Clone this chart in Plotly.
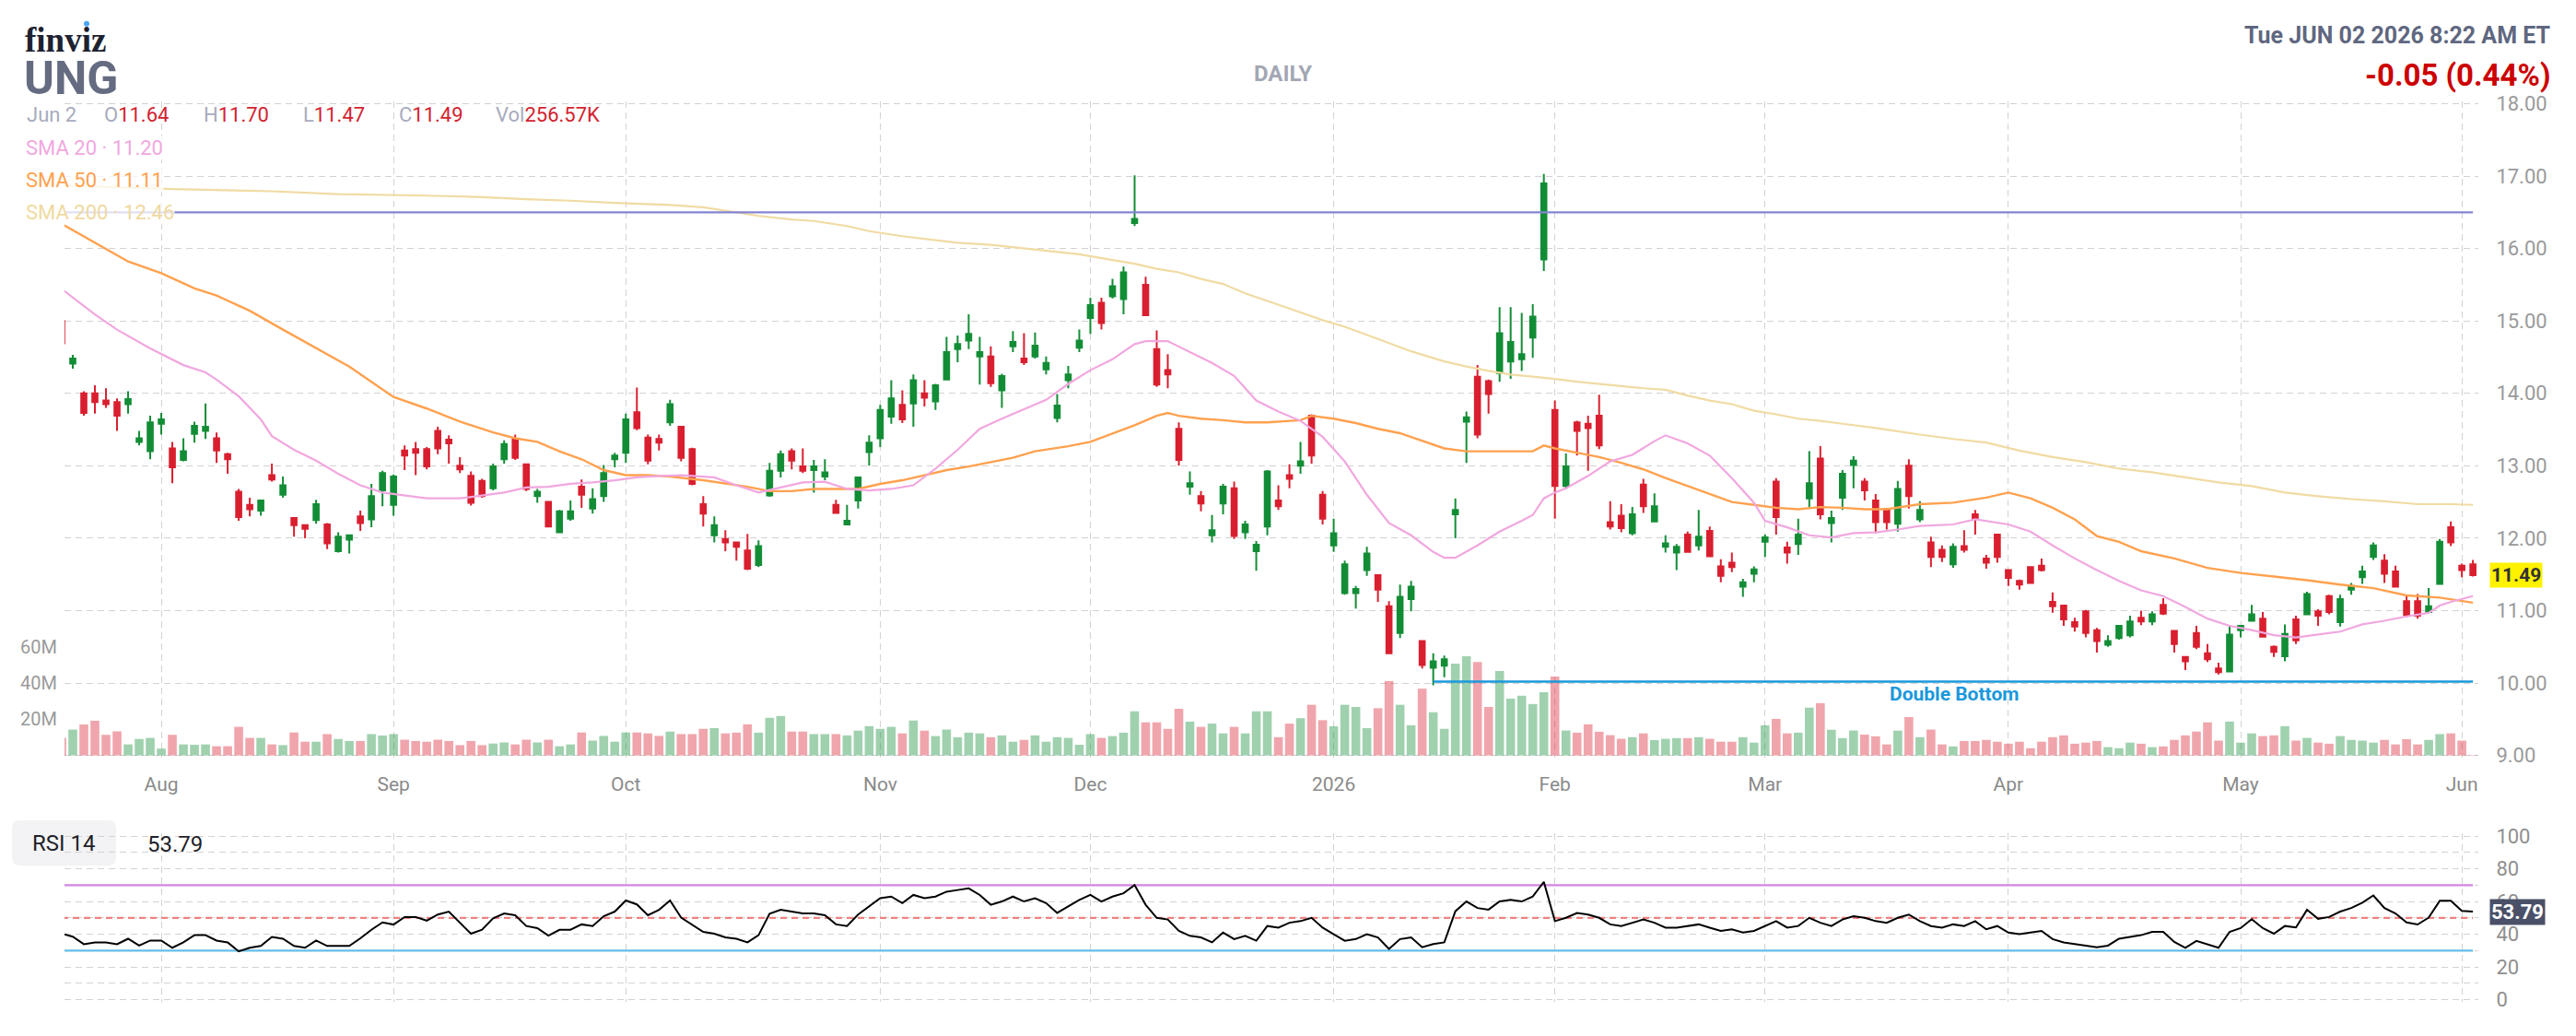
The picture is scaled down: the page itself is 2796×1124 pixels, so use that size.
import pandas as pd
import plotly.graph_objects as go

W, H = 2796, 1124

# ---------------- data ----------------
holidays = ["2025-09-01", "2025-11-27", "2025-12-25", "2026-01-01", "2026-01-19",
            "2026-02-16", "2026-04-03", "2026-05-25"]
dates = pd.bdate_range("2025-07-21", "2026-06-02", freq="C", holidays=holidays).strftime("%Y-%m-%d").tolist()

opens = [15.00,14.41,14.00,14.00,13.90,13.88,13.85,13.33,13.20,13.58,13.24,13.08,13.44,13.48,13.38,13.16,12.64,12.46,12.38,12.87,
         12.60,12.28,12.18,12.25,12.19,11.82,11.98,12.30,12.26,12.66,12.46,13.21,13.23,13.23,13.48,13.36,13.00,12.86,12.79,12.69,
         13.09,13.37,13.02,12.58,12.50,12.08,12.27,12.71,12.41,12.58,13.09,13.18,13.74,13.39,13.37,13.60,13.54,13.23,12.47,12.04,
         11.99,11.94,11.83,11.63,12.59,12.93,13.20,12.99,12.94,12.85,12.46,12.19,12.52,13.19,13.38,13.68,13.84,13.86,14.00,13.89,
         14.19,14.61,14.73,14.51,14.51,14.04,14.65,14.48,14.51,14.33,13.66,14.18,14.63,15.04,15.25,15.34,15.30,16.35,15.50,14.61,
         14.32,13.51,12.71,12.58,12.04,12.48,12.69,12.08,11.82,12.16,12.52,12.87,13.00,13.69,12.60,11.90,11.24,11.24,11.56,11.49,
         11.06,10.69,11.16,10.58,10.21,10.24,12.33,13.61,14.23,14.17,14.28,14.44,14.47,14.77,15.85,13.77,12.72,13.60,13.58,13.69,
         12.22,12.31,12.07,12.74,12.23,11.88,11.80,12.05,11.90,12.10,11.61,11.66,11.33,11.51,11.95,12.78,11.87,11.92,12.55,13.10,
         12.21,12.56,13.01,12.78,12.52,12.40,12.20,13.00,12.26,11.94,11.84,11.64,11.89,12.33,11.72,12.05,11.56,11.41,11.60,11.62,
         11.12,11.07,10.84,10.99,10.73,10.53,10.62,10.66,10.90,10.85,11.08,10.72,10.36,10.69,10.41,10.20,10.16,10.73,10.86,10.89,
         10.50,10.37,10.88,10.95,10.99,11.20,10.84,11.29,11.46,11.74,11.69,11.54,11.13,11.13,10.98,11.37,12.15,11.62,11.64]
highs = [15.02,14.53,14.03,14.11,14.07,13.93,14.03,13.48,13.69,13.73,13.33,13.38,13.61,13.86,13.46,13.18,12.68,12.56,12.53,13.03,
         12.85,12.28,12.19,12.53,12.21,12.08,12.04,12.38,12.75,12.93,12.88,13.28,13.33,13.26,13.54,13.42,13.12,12.92,12.82,13.03,
         13.35,13.43,13.03,12.68,12.51,12.39,12.52,12.81,12.69,13.01,13.18,13.72,14.08,13.43,13.43,13.91,13.54,13.25,12.58,12.30,
         12.11,11.95,12.06,11.97,13.04,13.21,13.24,13.24,13.08,13.09,12.53,12.46,12.85,13.42,13.84,14.18,14.04,14.26,14.18,14.13,
         14.78,14.80,15.09,14.78,14.65,14.27,14.86,14.83,14.84,14.51,13.99,14.38,14.88,15.32,15.32,15.58,15.75,17.01,15.61,14.87,
         14.54,13.60,12.92,12.65,12.32,12.75,12.78,12.24,11.96,12.94,12.73,13.02,13.33,13.71,12.65,12.27,11.69,11.34,11.88,11.49,
         11.13,11.36,11.41,10.58,10.41,10.38,12.55,13.75,14.39,14.19,15.19,15.19,15.11,15.23,17.03,13.90,13.17,13.62,13.69,13.98,
         12.51,12.47,12.43,12.82,12.62,12.04,11.92,12.09,12.39,12.16,11.71,11.80,11.44,11.61,12.05,12.83,11.95,12.27,13.20,13.27,
         12.38,12.94,13.13,12.83,12.61,12.42,12.79,13.09,12.51,12.02,11.90,11.93,12.11,12.39,11.77,12.06,11.56,11.43,11.60,11.72,
         11.25,11.07,10.90,11.01,10.76,10.66,10.80,10.93,11.00,10.99,11.17,10.72,10.37,10.79,10.54,10.28,10.80,10.80,11.08,10.98,
         10.52,10.81,10.93,11.26,11.02,11.22,11.22,11.38,11.62,11.94,11.78,11.62,11.20,11.23,11.31,11.99,12.23,11.65,11.70]
lows = [14.66,14.34,13.69,13.72,13.80,13.48,13.72,13.28,13.09,13.43,12.76,13.06,13.32,13.37,13.04,12.89,12.24,12.30,12.31,12.78,
        12.56,12.02,12.00,12.20,11.85,11.80,11.79,12.10,12.15,12.44,12.31,12.94,12.87,12.95,13.16,13.03,12.90,12.45,12.56,12.66,
        13.03,13.08,12.65,12.49,12.15,12.07,12.24,12.42,12.34,12.50,12.98,13.04,13.49,13.02,13.21,13.55,13.06,12.73,12.16,11.94,
        11.82,11.69,11.56,11.60,12.57,12.84,12.95,12.90,12.63,12.80,12.35,12.19,12.41,13.00,13.26,13.58,13.59,13.54,13.82,13.77,
        14.19,14.43,14.61,14.12,14.09,13.80,14.57,14.39,14.48,14.26,13.60,14.07,14.57,14.82,14.88,15.31,15.09,16.31,15.07,14.09,
        14.07,13.00,12.60,12.37,11.94,12.33,11.99,11.99,11.55,12.04,12.39,12.69,12.89,13.03,12.19,11.81,11.22,11.03,11.48,11.12,
        10.40,10.62,10.99,10.20,9.97,10.08,12.00,13.04,13.38,13.72,14.16,14.20,14.31,14.49,15.69,12.27,12.68,13.14,12.93,13.23,
        12.12,12.08,12.04,12.35,12.23,11.80,11.56,11.80,11.83,11.74,11.39,11.53,11.19,11.39,11.74,12.05,11.65,11.77,12.43,12.26,
        11.94,12.39,12.69,12.52,12.07,12.12,12.09,12.41,12.22,11.60,11.67,11.59,11.80,12.05,11.58,11.66,11.34,11.29,11.37,11.54,
        10.97,10.79,10.71,10.63,10.42,10.50,10.60,10.63,10.80,10.80,10.94,10.42,10.18,10.47,10.29,10.12,10.16,10.63,10.85,10.63,
        10.36,10.30,10.54,10.94,10.79,10.95,10.78,11.22,11.37,11.70,11.38,11.32,10.91,10.89,10.98,11.37,11.89,11.46,11.47]
closes = [14.69,14.48,13.73,13.88,13.85,13.69,13.92,13.38,13.60,13.64,12.98,13.20,13.55,13.54,13.21,13.09,12.29,12.40,12.52,12.81,
          12.73,12.18,12.13,12.47,11.93,12.02,12.04,12.21,12.58,12.90,12.85,13.14,13.18,12.99,13.24,13.31,12.95,12.49,12.58,12.99,
          13.30,13.11,12.68,12.64,12.16,12.37,12.37,12.60,12.54,12.90,13.14,13.64,13.52,13.07,13.32,13.85,13.11,12.75,12.34,12.18,
          11.94,11.88,11.58,11.89,12.93,13.16,13.07,12.93,12.99,12.91,12.35,12.24,12.84,13.32,13.77,13.93,13.64,14.18,13.94,14.11,
          14.57,14.68,14.82,14.57,14.14,14.24,14.71,14.43,14.66,14.42,13.83,14.26,14.73,15.22,14.97,15.48,15.67,16.41,15.08,14.12,
          14.26,13.08,12.76,12.48,12.11,12.71,12.03,12.19,11.91,12.92,12.44,12.82,13.06,13.14,12.27,12.07,11.64,11.30,11.79,11.29,
          10.41,11.19,11.33,10.25,10.30,10.33,12.39,13.67,13.43,13.99,14.83,14.71,14.54,15.06,16.90,12.72,12.99,13.48,13.52,13.28,
          12.16,12.14,12.33,12.44,12.44,11.93,11.88,11.81,12.02,11.75,11.48,11.60,11.39,11.57,12.01,12.29,11.80,12.05,12.76,12.33,
          12.28,12.89,13.07,12.66,12.22,12.22,12.68,12.58,12.39,11.74,11.74,11.88,11.84,12.27,11.66,11.74,11.45,11.36,11.38,11.56,
          11.06,10.88,10.78,10.69,10.58,10.58,10.79,10.85,10.85,10.95,10.96,10.54,10.30,10.50,10.33,10.15,10.67,10.79,10.95,10.64,
          10.43,10.68,10.59,11.23,10.93,10.98,11.16,11.34,11.54,11.90,11.51,11.33,10.94,10.93,11.06,11.95,11.94,11.56,11.49]
volume_m = [9.7,14.3,17.1,19.2,11.4,13.3,6.1,9.1,9.7,3.8,11.4,6.1,5.9,6.1,5.1,5.1,15.8,9.7,9.7,6.1,
            5.7,12.7,7.6,7.6,11.8,9.1,8.0,8.0,11.8,11.0,11.8,8.7,8.0,7.6,8.7,8.0,5.7,8.0,5.7,6.6,
            7.2,6.1,8.7,7.2,8.7,5.1,6.1,12.7,8.2,10.8,7.6,12.7,12.7,12.2,10.8,13.2,11.8,11.8,14.7,15.1,
            12.2,12.6,17.2,12.6,20.8,21.8,13.2,13.2,11.8,11.8,11.8,11.1,13.7,16.2,14.7,15.8,12.2,19.3,13.7,10.7,
            14.3,10.1,12.6,12.2,10.1,11.1,7.6,8.6,11.1,7.6,10.1,9.7,5.9,11.8,9.7,10.7,12.6,24.4,18.3,18.3,
            14.7,25.8,18.7,15.8,17.6,12.2,15.8,12.2,24.4,24.4,10.1,17.6,20.6,28.0,19.5,16.1,28.0,26.8,15.1,26.1,
            41.1,28.0,16.7,36.9,23.9,14.7,50.7,54.8,51.6,26.8,46.6,31.4,33.0,28.4,34.9,43.6,13.8,12.6,17.2,13.1,
            11.2,9.2,10.1,12.2,8.5,9.2,9.6,9.6,10.1,9.2,7.6,7.6,10.1,7.1,16.7,20.2,12.2,12.6,26.4,28.9,
            14.2,9.6,13.8,11.5,10.6,6.1,13.7,21.2,10.1,14.3,6.1,5.0,8.0,8.0,8.6,7.6,6.5,7.6,4.0,7.6,
            10.1,11.1,6.5,7.1,8.0,4.6,4.0,7.1,6.5,4.6,5.0,8.6,11.1,13.2,18.3,8.2,18.7,7.1,12.2,10.7,
            11.1,16.2,8.2,9.7,7.1,6.5,10.7,8.6,8.2,7.1,8.6,6.1,9.0,6.1,8.6,11.8,12.2,8.2,0.26]

sma20_idx = [0,3,5,8,11,13,14,16,18,19,21,23,25,27,29,31,33,36,38,40,42,44,46,48,50,52,54,56,59,61,63,65,67,69,71,73,75,77,79,81,
             83,85,87,89,91,93,95,97,98,100,102,104,106,108,110,112,114,116,118,120,122,124,125,126,128,130,132,133,134,135,136,138,
             140,142,144,145,147,149,151,153,154,156,158,160,162,164,166,168,171,173,176,178,180,182,184,186,188,190,192,194,196,198,
             200,202,204,206,208,210,212,214,215,216,218]
sma20_val = [15.44,15.09,14.88,14.62,14.39,14.29,14.19,13.96,13.64,13.41,13.22,13.07,12.89,12.73,12.63,12.59,12.55,12.55,12.59,12.63,
             12.70,12.71,12.75,12.77,12.80,12.84,12.86,12.87,12.84,12.73,12.63,12.70,12.77,12.78,12.68,12.66,12.68,12.73,12.96,13.22,
             13.51,13.65,13.78,13.91,14.13,14.32,14.47,14.68,14.72,14.72,14.57,14.42,14.24,13.90,13.75,13.62,13.40,13.06,12.60,12.21,
             12.04,11.81,11.73,11.73,11.90,12.09,12.24,12.32,12.55,12.63,12.69,12.86,13.06,13.15,13.34,13.42,13.31,13.14,12.83,12.49,
             12.24,12.15,12.04,12.01,12.07,12.08,12.12,12.17,12.19,12.26,12.19,12.09,11.90,11.72,11.56,11.41,11.28,11.20,11.05,10.89,
             10.79,10.73,10.66,10.63,10.67,10.71,10.81,10.86,10.92,10.97,11.07,11.12,11.20]
sma50_idx = [0,3,6,9,12,14,17,20,23,26,28,30,33,36,39,41,43,45,47,49,51,53,55,58,62,64,66,68,72,74,76,78,80,82,84,86,88,91,93,95,
             97,99,100,101,103,105,107,109,112,113,115,117,119,121,123,125,127,131,133,134,135,137,139,141,143,145,147,149,151,153,
             155,157,159,161,163,165,168,171,174,176,178,180,182,184,186,188,191,194,197,200,203,206,209,212,215,218]
sma50_val = [16.34,16.08,15.82,15.66,15.45,15.35,15.14,14.88,14.62,14.37,14.16,13.95,13.79,13.61,13.46,13.38,13.33,13.20,13.09,12.94,
             12.87,12.87,12.85,12.80,12.71,12.65,12.65,12.68,12.68,12.75,12.80,12.87,12.94,12.99,13.05,13.11,13.20,13.27,13.33,13.44,
             13.56,13.69,13.73,13.69,13.65,13.63,13.60,13.60,13.63,13.69,13.65,13.59,13.51,13.45,13.34,13.24,13.20,13.20,13.20,13.28,
             13.24,13.18,13.12,13.04,12.95,12.83,12.72,12.60,12.50,12.46,12.42,12.40,12.43,12.42,12.40,12.40,12.47,12.49,12.56,12.63,
             12.55,12.42,12.26,12.03,11.95,11.82,11.72,11.59,11.52,11.47,11.42,11.36,11.31,11.21,11.18,11.11]
sma200_idx = [0,10,19,25,33,38,42,46,50,55,58,61,63,66,68,71,73,76,79,81,84,87,89,92,95,97,99,101,103,105,107,109,111,114,116,119,
              122,125,127,129,131,133,135,137,139,141,143,145,147,149,151,153,155,157,159,161,163,165,168,171,174,177,180,183,186,
              189,192,195,198,201,204,207,210,213,216,218]
sma200_val = [16.87,16.82,16.79,16.75,16.73,16.71,16.68,16.66,16.63,16.60,16.57,16.50,16.45,16.40,16.38,16.31,16.24,16.17,16.12,16.08,
              16.05,16.00,15.97,15.92,15.84,15.79,15.72,15.67,15.58,15.51,15.38,15.27,15.17,15.01,14.92,14.75,14.58,14.44,14.37,14.31,
              14.26,14.23,14.20,14.16,14.13,14.10,14.07,14.05,13.97,13.90,13.85,13.76,13.71,13.65,13.62,13.58,13.54,13.50,13.43,13.37,
              13.32,13.21,13.12,13.05,12.96,12.91,12.84,12.77,12.72,12.63,12.58,12.54,12.51,12.47,12.47,12.46]

rsi14 = [40.3,38.5,33.9,35.0,35.0,33.9,37.2,33.0,36.1,36.1,31.7,35.0,39.4,39.4,36.1,35.0,29.5,31.7,32.8,38.3,
         37.2,32.8,31.7,36.1,32.8,32.8,32.8,37.5,42.7,47.2,45.9,50.5,50.5,48.3,52.0,53.8,47.2,40.3,42.7,49.7,
         52.7,51.6,45.0,43.7,39.1,42.7,42.7,46.0,45.0,51.0,53.8,60.6,58.2,51.6,54.9,60.6,50.1,45.5,41.4,40.3,
         38.1,37.2,35.0,39.4,52.5,54.9,53.8,52.7,52.7,51.6,46,45,52,57,62,63,59,64,62,63,
         66,67,68,64,58,60,63,60,62,59,53,57,61,64,60,63,65,70,58,50,
         49,42,39,38,35,41,37,39,36,45,44,47,48,50,44,40,36,37,40,38,
         31,37,38,32,34,35,54,60,56,55,60,61,60,63,72,48,50,53,52,50,
         46,45,47,49,47,44,44,45,46,44,42,43,41,42,45,48,44,45,50,47,
         45,49,51,50,48,47,50,52,48,45,44,46,45,48,43,45,41,40,41,42,
         37,35,34,33,32,33,37.2,38.3,39.4,41.4,41.4,35.3,31.7,35.9,33.9,31.7,41.4,43.7,49.2,43.7,
         40.3,45.0,44.1,54.9,49.4,50.5,53.8,56.0,59.3,63.7,56.0,52.7,47.2,45.9,50.1,60.4,60.4,54.3,53.79]

resistance_level = 16.50
support_level = 10.02
support_start = 124
month_ticks = ["2025-08-01", "2025-09-02", "2025-10-01", "2025-11-03", "2025-12-01", "2026-01-02",
               "2026-02-02", "2026-03-02", "2026-04-01", "2026-05-01", "2026-06-01"]
month_labels = ["Aug", "Sep", "Oct", "Nov", "Dec", "2026", "Feb", "Mar", "Apr", "May", "Jun"]
price_ticks = [9, 10, 11, 12, 13, 14, 15, 16, 17, 18]
rsi_ticks = [0, 10, 20, 30, 40, 50, 60, 70, 80, 90, 100]

# ---------------- styling ----------------
GREEN = "#128d36"
RED = "#d91f2f"
VOL_GREEN = "rgba(18,141,54,0.40)"
VOL_RED = "rgba(217,31,47,0.40)"
GRID = "#d2d2d2"
FONT = "Roboto"
TICK_COL = "#9a9a9a"


def PX(x):
    return x / W


def PY(y):
    return 1 - y / H


vol_colors = [VOL_GREEN if c >= o else VOL_RED for o, c in zip(opens, closes)]

fig = go.Figure()
fig.add_trace(go.Bar(x=dates, y=[v * 1e6 for v in volume_m], marker_color=vol_colors, marker_line_width=0,
                     width=0.8, xaxis="x", yaxis="y", showlegend=False, hoverinfo="skip"))
fig.add_trace(go.Scatter(x=[dates[i] for i in sma200_idx], y=sma200_val, mode="lines",
                         line=dict(color="#f0dba3", width=2.2), xaxis="x", yaxis="y3", showlegend=False))
fig.add_trace(go.Scatter(x=[dates[i] for i in sma50_idx], y=sma50_val, mode="lines",
                         line=dict(color="#ffa14f", width=2.4), xaxis="x", yaxis="y3", showlegend=False))
fig.add_trace(go.Scatter(x=[dates[i] for i in sma20_idx], y=sma20_val, mode="lines",
                         line=dict(color="#f1a7df", width=2.2), xaxis="x", yaxis="y3", showlegend=False))
fig.add_trace(go.Scatter(x=[dates[0], dates[-1]], y=[resistance_level] * 2, mode="lines",
                         line=dict(color="#8585d4", width=2.2), xaxis="x", yaxis="y3", showlegend=False))
fig.add_trace(go.Scatter(x=[dates[support_start], dates[-1]], y=[support_level] * 2, mode="lines",
                         line=dict(color="#1a98dc", width=2.4), xaxis="x", yaxis="y3", showlegend=False))
fig.add_trace(go.Candlestick(x=dates, open=opens, high=highs, low=lows, close=closes,
                             increasing=dict(line=dict(color=GREEN, width=2), fillcolor=GREEN),
                             decreasing=dict(line=dict(color=RED, width=2), fillcolor=RED),
                             whiskerwidth=0, xaxis="x", yaxis="y3", showlegend=False))
# RSI
fig.add_trace(go.Scatter(x=[dates[0], dates[-1]], y=[70, 70], mode="lines", line=dict(color="#d184df", width=2.2),
                         xaxis="x2", yaxis="y2", showlegend=False))
fig.add_trace(go.Scatter(x=[dates[0], dates[-1]], y=[50, 50], mode="lines",
                         line=dict(color="#f08282", width=2.2, dash="7px,5px"),
                         xaxis="x2", yaxis="y2", showlegend=False))
fig.add_trace(go.Scatter(x=[dates[0], dates[-1]], y=[30, 30], mode="lines", line=dict(color="#64bde8", width=2.2),
                         xaxis="x2", yaxis="y2", showlegend=False))
fig.add_trace(go.Scatter(x=dates, y=rsi14, mode="lines", line=dict(color="#000000", width=2),
                         xaxis="x2", yaxis="y2", showlegend=False))

xdom = [PX(70), PX(2690)]
xrange_ = [0.25, 218.49]
price_dom = [PY(826.7), PY(101.9)]
rsi_dom = [PY(1096.7), PY(910.6)]

axis_common = dict(showline=False, zeroline=False, showgrid=True, gridcolor=GRID, gridwidth=1.4, griddash="7px,5px")

fig.update_layout(
    width=W, height=H, margin=dict(l=0, r=0, t=0, b=0),
    paper_bgcolor="white", plot_bgcolor="white", showlegend=False,
    boxgap=0.33, bargap=0.2,
    font=dict(family=FONT, color=TICK_COL),
    xaxis=dict(domain=xdom, type="category", range=xrange_, anchor="y", tickmode="array",
               tickvals=month_ticks, ticktext=month_labels, ticks="outside", ticklen=10,
               tickcolor="rgba(0,0,0,0)", tickfont=dict(size=21, color="#8a8a8a", family=FONT),
               rangeslider=dict(visible=False), **axis_common),
    xaxis2=dict(domain=xdom, type="category", range=xrange_, anchor="y2", matches="x", tickmode="array",
                tickvals=month_ticks, showticklabels=False, ticks="", **axis_common),
    yaxis=dict(domain=price_dom, range=[-1.2e6, 361.2e6], side="left", anchor="x", showgrid=False,
               zeroline=False, showline=False, tickmode="array", tickvals=[20e6, 40e6, 60e6],
               ticktext=["20M", "40M", "60M"], ticks="outside", ticklen=3, tickcolor="rgba(0,0,0,0)",
               tickfont=dict(size=20, color="#9a9a9a", family=FONT)),
    yaxis3=dict(range=[8.97, 18.03], side="right", anchor="x", overlaying="y", tickmode="array",
                tickvals=price_ticks, ticktext=[f"{v:.2f}" for v in price_ticks], ticks="outside",
                ticklen=14, tickcolor="rgba(0,0,0,0)", tickfont=dict(size=22, color=TICK_COL, family=FONT),
                **axis_common),
    yaxis2=dict(domain=rsi_dom, range=[-1.5, 101.5], side="right", anchor="x2", tickmode="array",
                tickvals=rsi_ticks, ticktext=[str(v) if v % 20 == 0 else "" for v in rsi_ticks],
                ticks="outside", ticklen=14, tickcolor="rgba(0,0,0,0)",
                tickfont=dict(size=22, color="#8f8f8f", family=FONT), **axis_common),
)

ann = []


def text(x, y, t, size, color, anchor="left", bold=False, family=FONT, bg=None, yanchor="middle"):
    s = f"<b>{t}</b>" if bold else t
    d = dict(x=PX(x), y=PY(y), xref="paper", yref="paper", text=s, showarrow=False, xanchor=anchor,
             yanchor=yanchor, font=dict(size=size, color=color, family=family))
    if bg:
        d.update(bgcolor=bg, borderpad=0)
    ann.append(d)


LBL = "#a7abbd"
VAL = "#d3222f"
text(25, 34, "finviz", 37, "#1d2231", bold=True, family="Liberation Serif")
text(24, 76, "UNG", 50, "#656c81", bold=True)
text(27, 117, "Jun 2", 22, LBL)
text(111, 117, f"<span style='color:{LBL}'>O</span>11.64", 22, VAL)
text(219, 117, f"<span style='color:{LBL}'>H</span>11.70", 22, VAL)
text(327, 117, f"<span style='color:{LBL}'>L</span>11.47", 22, VAL)
text(431, 117, f"<span style='color:{LBL}'>C</span>11.49", 22, VAL)
text(536, 117, f"<span style='color:{LBL}'>Vol</span>256.57K", 22, VAL)
text(27, 153, "SMA 20 · 11.20", 22, "#f1a7df", bg="rgba(255,255,255,0.75)")
text(27, 189, "SMA 50 · 11.11", 22, "#ffa14f", bg="rgba(255,255,255,0.75)")
text(27, 224, "SMA 200 · 12.46", 22, "#efd9a0", bg="rgba(255,255,255,0.75)")
text(1392, 71, "DAILY", 24, "#a3a7b3", anchor="center", bold=True)
text(2770, 29, "Tue JUN 02 2026 8:22 AM ET", 25, "#5f6780", anchor="right", bold=True)
text(2770, 73, "-0.05 (0.44%)", 33, "#cc0000", anchor="right", bold=True)
text(2121, 756, "Double Bottom", 21, "#1a98dc", anchor="center", bold=True)
text(69, 921, "RSI 14", 24, "#1f1f28", anchor="center")
text(158, 922, "53.79", 24, "#1f1f28")

# price tag and RSI tag
ann.append(dict(x=PX(2702), y=11.49, xref="paper", yref="y3", text="<b>11.49</b>", showarrow=False,
                xanchor="left", yanchor="middle", bgcolor="#fff200", borderpad=1,
                font=dict(size=21, color="#333333", family=FONT)))
ann.append(dict(x=PX(2702), y=53.79, xref="paper", yref="y2", text="<b>53.79</b>", showarrow=False,
                xanchor="left", yanchor="middle", bgcolor="#4a5067", borderpad=1,
                font=dict(size=22, color="#ffffff", family=FONT)))
fig.update_layout(annotations=ann)

# rounded RSI label box + blue logo dot
x0, x1, y0, y1, r = 13, 126, 896, 946, 9
path = (f"M {PX(x0 + r)} {PY(y0)} L {PX(x1 - r)} {PY(y0)} Q {PX(x1)} {PY(y0)} {PX(x1)} {PY(y0 + r)} "
        f"L {PX(x1)} {PY(y1 - r)} Q {PX(x1)} {PY(y1)} {PX(x1 - r)} {PY(y1)} L {PX(x0 + r)} {PY(y1)} "
        f"Q {PX(x0)} {PY(y1)} {PX(x0)} {PY(y1 - r)} L {PX(x0)} {PY(y0 + r)} Q {PX(x0)} {PY(y0)} {PX(x0 + r)} {PY(y0)} Z")
fig.add_shape(type="path", path=path, xref="paper", yref="paper", fillcolor="#f3f3f5", line_width=0, layer="below")
fig.add_shape(type="circle", xref="paper", yref="paper", x0=PX(91), x1=PX(97), y0=PY(19), y1=PY(13),
              fillcolor="#4aa6f7", line_width=0)

fig.write_html("out.html")
